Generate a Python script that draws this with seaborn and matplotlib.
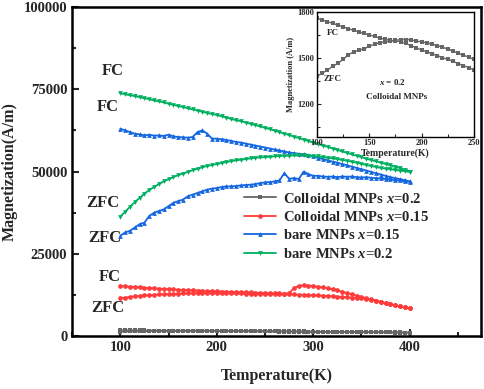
import numpy as np
import pandas as pd
import matplotlib
matplotlib.use("Agg")
import matplotlib.pyplot as plt
from matplotlib.ticker import MultipleLocator
import seaborn as sns

# temperature grid (K)
temp = list(range(100, 405, 5))

# Colloidal MNPs x=0.2 (gray)
gray_fc = [1760, 1748, 1737, 1726, 1715, 1703, 1692, 1680, 1670, 1660, 1650, 1640, 1630, 1622, 1615, 1612,
           1605, 1595, 1580, 1565, 1552, 1540, 1528, 1515, 1502, 1490, 1477, 1463, 1450, 1436, 1422,
           1410, 1398, 1385, 1372, 1360, 1347, 1335, 1322, 1310, 1297, 1285, 1272, 1260, 1248, 1235,
           1222, 1210, 1197, 1185, 1172, 1160, 1147, 1135, 1122, 1110, 1097, 1085, 1072, 1060, 1050]
gray_zfc = [1380, 1400, 1420, 1445, 1465, 1490, 1520, 1540, 1550, 1560, 1575, 1590, 1600, 1605, 1610, 1615,
            1620, 1620, 1618, 1610, 1605, 1598, 1590, 1580, 1570, 1558, 1545, 1530, 1518, 1505, 1490,
            1478, 1466, 1454, 1442, 1430, 1420, 1410, 1398, 1386, 1374, 1362, 1350, 1338, 1325, 1312,
            1300, 1286, 1272, 1258, 1244, 1230, 1215, 1200, 1185, 1170, 1150, 1130, 1110, 1085, 1060]

# Colloidal MNPs x=0.15 (red)
red_fc = [15200, 15100, 15000, 14900, 14800, 14700, 14600, 14500, 14400, 14350, 14300, 14200, 14100, 14050,
          14000, 13900, 13850, 13800, 13700, 13650, 13600, 13550, 13500, 13450, 13400, 13350, 13300, 13250,
          13200, 13150, 13100, 13050, 13000, 12950, 12900, 13000, 14600, 15300, 15400, 15350, 15200, 15000,
          14800, 14500, 14200, 13900, 13500, 13100, 12700, 12300, 11900, 11500, 11200, 10800, 10400, 10000,
          9700, 9300, 9000, 8700, 8400]
red_zfc = [11500, 11700, 11900, 12100, 12200, 12350, 12450, 12550, 12650, 12700, 12800, 12850, 12900, 12950,
           13000, 13000, 13050, 13050, 13050, 13050, 13050, 13000, 13000, 13000, 12950, 12950, 12900, 12900,
           12850, 12850, 12800, 12800, 12750, 12750, 12700, 12700, 12650, 12600, 12550, 12500, 12400, 12350,
           12300, 12200, 12100, 12000, 11900, 11800, 11700, 11600, 11500, 11300, 11100, 10800, 10400, 10000,
           9700, 9300, 9000, 8700, 8400]

# bare MNPs x=0.15 (blue)
blue_fc = [63000, 62500, 62000, 61500, 61300, 61000, 61200, 60900, 61000, 60800, 61200, 60700, 60500, 60400,
           60300, 60500, 62000, 62500, 61500, 60000, 60000, 59800, 59600, 59300, 59000, 58800, 58500, 58200,
           57900, 57600, 57300, 57000, 56700, 56400, 56100, 55800, 55600, 55400, 55200, 55000, 54600, 54200,
           53800, 53400, 53000, 52700, 52300, 51900, 51500, 51100, 50700, 50300, 49900, 49500, 49100, 48700,
           48300, 48000, 47700, 47400, 47000]
blue_zfc = [30500, 31500, 32000, 33000, 34000, 34500, 36500, 37500, 38000, 38500, 39500, 40500, 41000, 41500,
            42500, 43000, 43500, 44000, 44500, 44800, 45000, 45300, 45500, 45500, 45600, 45800, 45900, 46000,
            46200, 46500, 46700, 46800, 47000, 47300, 49500, 47800, 48000, 47700, 50000, 49200, 48700, 48700,
            48500, 48400, 48500, 48300, 48500, 48400, 48500, 48300, 48200, 48300, 48100, 48000, 47900, 47700,
            47600, 47400, 47300, 47100, 46900]

# bare MNPs x=0.2 (green)
green_fc = [73800, 73500, 73200, 72900, 72600, 72300, 72000, 71600, 71300, 71000, 70600, 70300, 69900, 69600,
            69200, 68900, 68500, 68200, 67800, 67500, 67200, 66800, 66400, 66000, 65600, 65300, 64900, 64500,
            64100, 63700, 63300, 62900, 62400, 62000, 61500, 61100, 60600, 60200, 59700, 59300, 58800, 58400,
            57900, 57500, 57000, 56600, 56100, 55700, 55200, 54800, 54400, 53900, 53500, 53100, 52700, 52300,
            51900, 51500, 51100, 50500, 50000]
green_zfc = [36300, 37800, 39300, 40700, 42000, 43300, 44400, 45300, 46200, 47000, 47700, 48300, 48900, 49400,
             49900, 50400, 50900, 51300, 51700, 52000, 52300, 52600, 52900, 53200, 53400, 53600, 53800, 54000,
             54200, 54300, 54400, 54500, 54600, 54700, 54800, 54800, 54900, 54900, 54900, 54800, 54700, 54600,
             54400, 54200, 54000, 53800, 53500, 53300, 53000, 52700, 52400, 52000, 51700, 51400, 51100, 50900,
             50700, 50500, 50300, 50100, 49900]

labels = ["Colloidal MNPs $x$=0.2", "Colloidal MNPs $x$=0.15", "bare MNPs $x$=0.15", "bare MNPs $x$=0.2"]
colors = ["#666666", "#ff3b3b", "#1467e0", "#00b060"]
markers = ["s", "o", "^", "v"]
curves = [(gray_fc, gray_zfc), (red_fc, red_zfc), (blue_fc, blue_zfc), (green_fc, green_zfc)]

sns.set_theme(style="ticks")
plt.rcParams['font.family'] = ['Liberation Serif', 'DejaVu Serif']
plt.rcParams['font.weight'] = 'bold'
plt.rcParams['mathtext.fontset'] = 'custom'
plt.rcParams['mathtext.it'] = 'Liberation Serif:italic:bold'
plt.rcParams['mathtext.rm'] = 'Liberation Serif:bold'

fig = plt.figure(figsize=(4.84, 3.89), dpi=100)
ax = fig.add_axes([0.149, 0.136, 0.845, 0.846])

for (fc, zfc), lab, c, m in zip(curves, labels, colors, markers):
    df = pd.DataFrame({"T": temp, "FC": fc, "ZFC": zfc})
    sns.lineplot(data=df, x="T", y="FC", ax=ax, color=c, marker=m, markersize=3.4, markeredgewidth=0,
                 linewidth=1.3, label=lab)
    sns.lineplot(data=df, x="T", y="ZFC", ax=ax, color=c, marker=m, markersize=3.4, markeredgewidth=0,
                 linewidth=1.3)

ax.set_xlim(50, 474)
ax.set_ylim(0, 100000)
ax.xaxis.set_major_locator(MultipleLocator(100))
ax.xaxis.set_minor_locator(MultipleLocator(50))
ax.yaxis.set_major_locator(MultipleLocator(25000))
ax.yaxis.set_minor_locator(MultipleLocator(12500))
ax.tick_params(which='both', direction='in', top=False, right=False, width=1.5, labelsize=10.5)
ax.tick_params(which='major', length=5)
ax.tick_params(which='minor', length=3)
for sp in ax.spines.values():
    sp.set_linewidth(1.8)
    sp.set_color('black')
for t in ax.get_xticklabels() + ax.get_yticklabels():
    t.set_fontweight('bold')
ax.set_xlabel("Temperature(K)", fontsize=11.5, fontweight='bold', labelpad=10)
ax.set_ylabel("Magnetization(A/m)", fontsize=11.5, fontweight='bold', labelpad=4)

leg = ax.legend(loc='upper left', bbox_to_anchor=(0.405, 0.457), frameon=False, fontsize=10.5,
                handlelength=2.2, handletextpad=0.5, labelspacing=0.3, borderaxespad=0)
leg.set_zorder(1)

# FC / ZFC tags
tag_kw = dict(fontsize=12, fontweight='bold', ha='center', va='center')
ax.text(92, 80500, "FC", **tag_kw)
ax.text(87, 69500, "FC", **tag_kw)
ax.text(82, 40500, "ZFC", **tag_kw)
ax.text(84, 29900, "ZFC", **tag_kw)
ax.text(89, 18000, "FC", **tag_kw)
ax.text(87, 8500, "ZFC", **tag_kw)

# inset: Colloidal MNPs x=0.2
ins = fig.add_axes([0.655, 0.649, 0.324, 0.320])
dfi = pd.DataFrame({"T": temp, "FC": gray_fc, "ZFC": gray_zfc})
dfi = dfi[dfi["T"] <= 250]
sns.lineplot(data=dfi, x="T", y="FC", ax=ins, color=colors[0], marker='s', markersize=2.6,
             markeredgewidth=0, linewidth=1.0)
sns.lineplot(data=dfi, x="T", y="ZFC", ax=ins, color=colors[0], marker='s', markersize=2.6,
             markeredgewidth=0, linewidth=1.0)
ins.set_xlim(100, 250)
ins.set_ylim(985, 1800)
ins.xaxis.set_major_locator(MultipleLocator(50))
ins.xaxis.set_minor_locator(MultipleLocator(25))
ins.yaxis.set_major_locator(MultipleLocator(300))
ins.yaxis.set_minor_locator(MultipleLocator(150))
ins.tick_params(which='both', direction='in', top=False, right=False, width=0.8, labelsize=6, pad=2)
ins.tick_params(which='major', length=3)
ins.tick_params(which='minor', length=2)
for sp in ins.spines.values():
    sp.set_linewidth(1.0)
    sp.set_color('black')
for t in ins.get_xticklabels() + ins.get_yticklabels():
    t.set_fontweight('bold')
ins.set_xlabel("Temperature(K)", fontsize=7, fontweight='bold', labelpad=1)
ins.set_ylabel("Magnetization (A/m)", fontsize=6, fontweight='bold', labelpad=2)
in_kw = dict(fontsize=6.5, fontweight='bold', ha='center', va='center')
ins.text(115, 1662, "FC", **in_kw)
ins.text(115, 1360, "ZFC", **in_kw)
ins.text(172, 1340, "$x$ = 0.2", **in_kw)
ins.text(176, 1242, "Colloidal MNPs", **in_kw)

fig.savefig("out.png", dpi=100)
